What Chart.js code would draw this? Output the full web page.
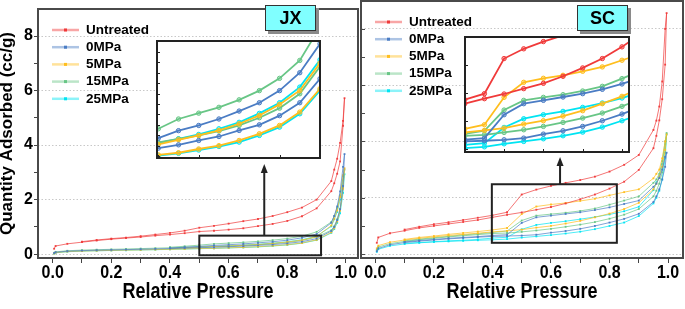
<!DOCTYPE html>
<html>
<head>
<meta charset="utf-8">
<script src="https://cdn.jsdelivr.net/npm/chart.js@4.4.0/dist/chart.umd.min.js"></script>
<style>
html, body { margin: 0; padding: 0; background: #fff; }
#wrap { position: relative; width: 685px; height: 309px; overflow: hidden; }
canvas { position: absolute; background: #fff; }
.tag { position: absolute; box-sizing: border-box; background: #80ffff; border: 1px solid #333;
       box-shadow: 3px 3px 0 #8a8a8a; font: bold 18px "Liberation Sans", Arial, sans-serif;
       text-align: center; color: #000; }
</style>
</head>
<body>
<div id="wrap">
  <canvas id="jxMain" width="360" height="309" style="left:0;top:0"></canvas>
  <canvas id="scMain" width="325" height="309" style="left:360px;top:0"></canvas>
  <canvas id="jxInset" width="165" height="119" style="left:156px;top:40px"></canvas>
  <canvas id="scInset" width="166" height="117" style="left:464px;top:36px"></canvas>
  <div class="tag" style="left:265px;top:5px;width:51px;height:26px;line-height:24px">JX</div>
  <div class="tag" style="left:577px;top:5px;width:51px;height:26px;line-height:24px">SC</div>
</div>
<script>
// relative pressure of the adsorption and desorption points
const pAds = [0.005, 0.01, 0.05, 0.1, 0.15, 0.2, 0.25, 0.3, 0.35, 0.4, 0.45, 0.5, 0.55, 0.6, 0.65,
              0.7, 0.75, 0.8, 0.85, 0.9, 0.95, 0.96, 0.97, 0.98, 0.99, 0.995];
const pDes = [0.99, 0.98, 0.97, 0.96, 0.95, 0.9, 0.85, 0.8, 0.75, 0.7, 0.65, 0.6, 0.55, 0.5, 0.45,
              0.4, 0.35, 0.3, 0.25, 0.2, 0.15, 0.1];

const seriesNames = ['Untreated', '0MPa', '5MPa', '15MPa', '25MPa'];
const seriesRgb = ['240,58,58', '74,124,196', '255,190,30', '104,198,134', '0,228,242'];

// JX
const jxUntreatedAds = [0.2, 0.3, 0.38, 0.44, 0.5, 0.55, 0.59, 0.63, 0.68, 0.72, 0.77, 0.83, 0.86, 0.9, 0.95,
                        1.03, 1.11, 1.22, 1.39, 1.68, 2.31, 2.6, 2.95, 3.4, 4.71, 5.72];
const jxUntreatedDes = [4.89, 4.08, 3.5, 3.1, 2.68, 2.0, 1.71, 1.54, 1.40, 1.29, 1.21, 1.12, 1.04, 0.97, 0.86,
                        0.78, 0.72, 0.66, 0.61, 0.57, 0.52, 0.46];
const jx0Ads = [0.04, 0.07, 0.11, 0.13, 0.145, 0.157, 0.168, 0.18, 0.194, 0.208, 0.223,
                0.238, 0.254, 0.275, 0.294, 0.323, 0.350, 0.394, 0.456, 0.571,
                0.85, 1.0, 1.25, 1.65, 2.5, 3.67];
const jx0Des = [3.2, 2.3, 1.75, 1.4, 1.15, 0.739, 0.600, 0.514, 0.456, 0.416, 0.378, 0.347, 0.322, 0.286, 0.255, 0.225];
const jx5Ads = [0.025, 0.055, 0.095, 0.113, 0.127, 0.138, 0.148, 0.158, 0.168, 0.179, 0.192,
                0.206, 0.216, 0.234, 0.250, 0.275, 0.307, 0.347, 0.411, 0.523,
                0.8, 0.95, 1.2, 1.6, 2.4, 3.15];
const jx5Des = [2.9, 2.1, 1.6, 1.3, 1.05, 0.646, 0.515, 0.448, 0.395, 0.355, 0.323, 0.299, 0.278, 0.256, 0.225, 0.195];
const jx15Ads = [0.05, 0.085, 0.125, 0.15, 0.165, 0.178, 0.19, 0.205, 0.22, 0.235, 0.25,
                 0.266, 0.282, 0.299, 0.320, 0.347, 0.384, 0.430, 0.499, 0.630,
                 0.88, 1.02, 1.28, 1.65, 2.45, 3.1];
const jx15Des = [2.85, 2.15, 1.7, 1.4, 1.18, 0.819, 0.659, 0.573, 0.514, 0.470, 0.434, 0.406, 0.378, 0.331, 0.29, 0.255];
const jx25Ads = [0.02, 0.05, 0.09, 0.11, 0.125, 0.135, 0.145, 0.155, 0.165, 0.175, 0.188,
                 0.202, 0.213, 0.229, 0.246, 0.267, 0.299, 0.339, 0.403, 0.515,
                 0.78, 0.92, 1.15, 1.5, 2.25, 2.93];
const jx25Des = [2.7, 2.0, 1.55, 1.28, 1.02, 0.662, 0.531, 0.456, 0.405, 0.362, 0.331, 0.304, 0.283, 0.262, 0.23, 0.195];

// SC
const scUntreatedAds = [0.4, 0.59, 0.74, 0.83, 0.93, 1.0, 1.07, 1.14, 1.21, 1.305, 1.395, 1.479, 1.575, 1.671, 1.797,
                        1.947, 2.115, 2.325, 2.57, 2.99, 3.76, 4.2, 4.75, 5.5, 6.73, 8.56];
const scUntreatedDes = [8.0, 6.13, 5.24, 4.74, 4.41, 3.52, 3.17, 2.93, 2.75, 2.63, 2.53, 2.42, 2.29, 2.115, 1.485,
                        1.377, 1.29, 1.21, 1.13, 1.06, 0.97, 0.87];
const sc0Ads = [0.1, 0.2, 0.33, 0.41, 0.46, 0.5, 0.54, 0.57, 0.6, 0.627, 0.64,
                0.657, 0.687, 0.759, 0.819, 0.897, 0.999, 1.119,
                1.25, 1.43, 1.85, 2.05, 2.3, 2.65, 3.1, 3.6];
const sc0Des = [3.45, 3.0, 2.7, 2.5, 2.39, 1.9, 1.78, 1.659, 1.563, 1.485, 1.425, 1.365, 1.305, 1.107, 0.687, 0.66,
                0.62, 0.59, 0.56, 0.52, 0.48, 0.43];
const sc5Ads = [0.2, 0.3, 0.42, 0.5, 0.56, 0.61, 0.66, 0.7, 0.74, 0.789, 0.825,
                0.867, 0.939, 0.999, 1.083, 1.179, 1.305, 1.437,
                1.6, 1.82, 2.3, 2.5, 2.75, 3.1, 3.7, 4.25];
const sc5Des = [4.0, 3.4, 3.0, 2.85, 2.69, 2.3, 2.2, 2.085, 1.965, 1.887, 1.815, 1.761, 1.689, 1.419, 0.927, 0.855,
                0.8, 0.75, 0.7, 0.64, 0.59, 0.52];
const sc15Ads = [0.15, 0.25, 0.37, 0.45, 0.51, 0.56, 0.61, 0.65, 0.69, 0.729, 0.747,
                 0.789, 0.837, 0.897, 0.969, 1.047, 1.137, 1.257,
                 1.4, 1.6, 2.05, 2.25, 2.5, 2.9, 3.6, 4.3];
const sc15Des = [4.0, 3.3, 2.85, 2.65, 2.53, 2.05, 1.9, 1.755, 1.617, 1.533, 1.467, 1.419, 1.365, 1.191, 0.819, 0.765,
                 0.72, 0.68, 0.63, 0.58, 0.53, 0.47];
const sc25Ads = [0.08, 0.17, 0.29, 0.36, 0.4, 0.43, 0.45, 0.47, 0.49, 0.507, 0.531,
                 0.585, 0.627, 0.675, 0.729, 0.795, 0.885, 0.999,
                 1.12, 1.35, 1.8, 2.0, 2.25, 2.65, 3.4, 4.25];
const sc25Des = [3.9, 3.2, 2.75, 2.55, 2.27, 1.68, 1.52, 1.407, 1.317, 1.239, 1.167, 1.107, 1.035, 0.879, 0.597, 0.567,
                 0.52, 0.49, 0.47, 0.44, 0.41, 0.38];

const yTicks = [0, 1, 2, 3, 4, 5, 6, 7, 8];
const xTicks = [0, 0.1, 0.2, 0.3, 0.4, 0.5, 0.6, 0.7, 0.8, 0.9, 1.0];
const xLabels = ['0.0', '', '0.2', '', '0.4', '', '0.6', '', '0.8', '', '1.0'];

const FONT = '"Liberation Sans", Arial, sans-serif';
Chart.defaults.font.family = FONT;
Chart.defaults.color = '#000';

// adsorption branch up, then desorption branch back down
function isotherm(ads, des) {
    const pts = ads.map((v, i) => ({ x: pAds[i], y: v }));
    des.forEach((v, i) => pts.push({ x: pDes[i], y: v }));
    return pts;
}

const jxSets = [[jxUntreatedAds, jxUntreatedDes], [jx0Ads, jx0Des], [jx5Ads, jx5Des], [jx15Ads, jx15Des], [jx25Ads, jx25Des]];
const scSets = [[scUntreatedAds, scUntreatedDes], [sc0Ads, sc0Des], [sc5Ads, sc5Des], [sc15Ads, sc15Des], [sc25Ads, sc25Des]];

function mainDatasets(sets) {
    return sets.map((s, i) => ({
        label: seriesNames[i],
        data: isotherm(s[0], s[1]),
        borderColor: `rgba(${seriesRgb[i]},0.7)`,
        borderWidth: 1,
        pointStyle: 'rect',
        pointRadius: 1.3,
        pointBorderWidth: 0,
        pointBackgroundColor: `rgba(${seriesRgb[i]},0.95)`,
        rgb: seriesRgb[i]
    }));
}

function insetDatasets(sets) {
    return sets.map((s, i) => ({
        label: seriesNames[i],
        data: isotherm(s[0], s[1]),
        borderColor: `rgb(${seriesRgb[i]})`,
        borderWidth: 1.8,
        pointRadius: 2.2,
        pointBorderWidth: 1,
        pointBorderColor: `rgb(${seriesRgb[i]})`,
        pointBackgroundColor: `rgba(${seriesRgb[i]},0.4)`
    }));
}

// text squeezed a bit taller, like the exported figure
function tallText(ctx, text, x, y, k) {
    ctx.save();
    ctx.translate(x, y);
    ctx.scale(1, k);
    ctx.fillText(text, 0, 0);
    ctx.restore();
}

// frame, zoom box, arrow, x labels and legend for a main panel
function panelPlugin(opts) {
    return {
        id: 'panel',
        afterDatasetsDraw(chart) {
            const { ctx, chartArea: a, scales: { x, y } } = chart;
            ctx.save();
            const bx1 = x.getPixelForValue(opts.box[0]), bx2 = x.getPixelForValue(opts.box[1]);
            const by1 = y.getPixelForValue(opts.box[2]), by2 = y.getPixelForValue(opts.box[3]);
            ctx.strokeStyle = '#222';
            ctx.lineWidth = 2;
            ctx.strokeRect(bx1, by2, bx2 - bx1, by1 - by2);

            const ax = x.getPixelForValue(opts.arrow[0]);
            const tip = y.getPixelForValue(opts.arrow[1]);
            ctx.beginPath();
            ctx.moveTo(ax, by2);
            ctx.lineTo(ax, tip + 6);
            ctx.stroke();
            ctx.fillStyle = '#222';
            ctx.beginPath();
            ctx.moveTo(ax, tip);
            ctx.lineTo(ax - 3.5, tip + 9);
            ctx.lineTo(ax + 3.5, tip + 9);
            ctx.closePath();
            ctx.fill();

            ctx.strokeStyle = '#4a4a4a';
            ctx.lineWidth = 2;
            ctx.strokeRect(a.left, a.top, a.right - a.left, a.bottom - a.top);

            if (opts.innerTicks) {
                ctx.lineWidth = 1;
                yTicks.forEach(v => {
                    const py = Math.round(y.getPixelForValue(v)) + 0.5;
                    ctx.beginPath();
                    ctx.moveTo(a.left, py);
                    ctx.lineTo(a.left + 4, py);
                    ctx.stroke();
                });
            }

            // x tick labels and axis title
            ctx.fillStyle = '#000';
            ctx.textAlign = 'center';
            ctx.textBaseline = 'middle';
            ctx.font = 'bold 16px ' + FONT;
            xTicks.forEach((v, i) => {
                if (xLabels[i]) tallText(ctx, xLabels[i], x.getPixelForValue(v), a.bottom + 15, 1.1);
            });
            ctx.font = 'bold 18px ' + FONT;
            tallText(ctx, 'Relative Pressure', (a.left + a.right) / 2, 292, 1.2);

            // legend
            ctx.textAlign = 'left';
            ctx.font = 'bold 13.5px ' + FONT;
            chart.data.datasets.forEach((ds, i) => {
                const ly = a.top + 21 + i * 17.2;
                ctx.strokeStyle = `rgba(${ds.rgb},0.45)`;
                ctx.lineWidth = 2.5;
                ctx.beginPath();
                ctx.moveTo(a.left + 14, ly);
                ctx.lineTo(a.left + 41, ly);
                ctx.stroke();
                ctx.fillStyle = `rgb(${ds.rgb})`;
                ctx.fillRect(a.left + 26, ly - 1.5, 3, 3);
                ctx.fillStyle = '#000';
                ctx.fillText(ds.label, a.left + 48, ly);
            });
            ctx.restore();
        }
    };
}

function mainChart(id, sets, opts) {
    return new Chart(document.getElementById(id), {
        type: 'line',
        data: { datasets: mainDatasets(sets) },
        options: {
            responsive: false,
            animation: false,
            events: [],
            layout: { autoPadding: false, padding: { top: 1, right: 2, left: 0, bottom: 0 } },
            plugins: { legend: { display: false }, tooltip: { enabled: false } },
            scales: {
                x: {
                    type: 'linear',
                    min: opts.xMin,
                    max: opts.xMax,
                    afterBuildTicks: s => { s.ticks = xTicks.map(v => ({ value: v })); },
                    afterFit: s => { s.height = 51; },
                    border: { display: false },
                    grid: { drawOnChartArea: false, drawTicks: true, tickLength: 5, tickColor: '#444' },
                    ticks: { display: false }
                },
                y: {
                    min: -0.14,
                    max: 8.99,
                    afterBuildTicks: s => { s.ticks = yTicks.map(v => ({ value: v })); },
                    afterFit: s => { s.width = opts.yWidth; },
                    border: { display: false, dash: [1.5, 2] },
                    grid: {
                        color: c => (c.tick && c.tick.value % 2 === 0 ? '#c8c8c8' : 'rgba(0,0,0,0)'),
                        drawTicks: opts.showY,
                        tickLength: 4,
                        tickColor: '#444'
                    },
                    ticks: {
                        display: opts.showY,
                        padding: 1,
                        font: { size: 16, weight: 'bold', lineHeight: 1 },
                        callback: v => (v % 2 === 0 ? v : '')
                    },
                    title: {
                        display: opts.showY,
                        text: 'Quantity Adsorbed (cc/g)',
                        font: { size: 17, weight: 'bold', lineHeight: 1 },
                        padding: { top: -1, bottom: 0 }
                    }
                }
            }
        },
        plugins: [panelPlugin(opts)]
    });
}

// border and inward ticks of an inset
function insetPlugin(xt, yt) {
    return {
        id: 'insetFrame',
        afterDatasetsDraw(chart) {
            const { ctx, chartArea: a, scales: { x, y } } = chart;
            ctx.save();
            ctx.strokeStyle = '#222';
            ctx.lineWidth = 1;
            yt.forEach(v => {
                const py = Math.round(y.getPixelForValue(v)) + 0.5;
                ctx.beginPath(); ctx.moveTo(a.left, py); ctx.lineTo(a.left + 4, py); ctx.stroke();
            });
            xt.forEach(v => {
                const px = Math.round(x.getPixelForValue(v)) + 0.5;
                ctx.beginPath(); ctx.moveTo(px, a.bottom); ctx.lineTo(px, a.bottom - 4); ctx.stroke();
            });
            ctx.lineWidth = 2;
            ctx.strokeRect(a.left + 1, a.top + 1, a.right - a.left - 2, a.bottom - a.top - 2);
            ctx.restore();
        }
    };
}

function insetChart(id, sets, r, xt, yt) {
    return new Chart(document.getElementById(id), {
        type: 'line',
        data: { datasets: insetDatasets(sets) },
        options: {
            responsive: false,
            animation: false,
            events: [],
            layout: { autoPadding: false, padding: 0 },
            plugins: { legend: { display: false }, tooltip: { enabled: false } },
            scales: {
                x: { type: 'linear', display: false, min: r[0], max: r[1] },
                y: { display: false, min: r[2], max: r[3] }
            }
        },
        plugins: [insetPlugin(xt, yt)]
    });
}

mainChart('jxMain', jxSets, {
    xMin: -0.05, xMax: 1.041, yWidth: 38, showY: true, innerTicks: false,
    box: [0.5, 0.915, -0.04, 0.68], arrow: [0.7214, 3.31]
});
mainChart('scMain', scSets, {
    xMin: -0.049, xMax: 1.051, yWidth: 1, showY: false, innerTicks: true,
    box: [0.398, 0.825, 0.40, 2.48], arrow: [0.631, 3.45]
});
insetChart('jxInset', jxSets, [0.4943, 0.9025, 0.186, 0.757],
    [0.5, 0.6, 0.7, 0.8, 0.9],
    [0.2, 0.25, 0.3, 0.35, 0.4, 0.45, 0.5, 0.55, 0.6, 0.65, 0.7, 0.75]);
insetChart('scInset', scSets, [0.398, 0.8204, 0.42, 2.52],
    [0.4, 0.5, 0.6, 0.7, 0.8],
    [0.5, 1.0, 1.5, 2.0, 2.5]);
</script>
</body>
</html>
